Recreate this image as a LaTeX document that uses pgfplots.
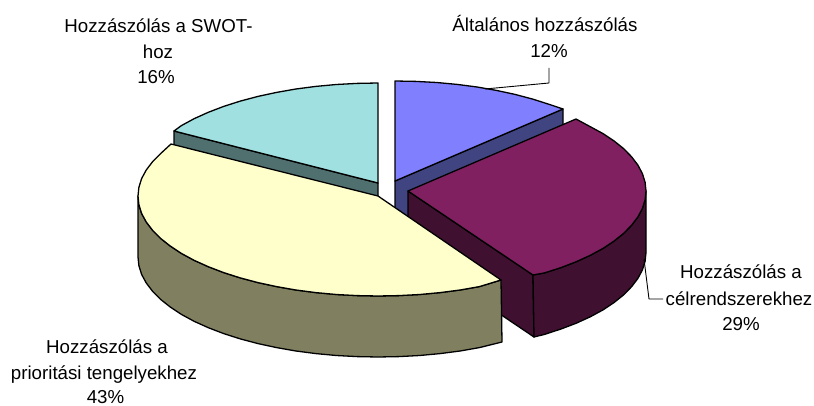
\documentclass[border=0pt]{standalone}
\usepackage{fontspec}
\setmainfont{Liberation Sans}
\usepackage{pgfplots}
\pgfplotsset{compat=1.18}
\definecolor{bT}{HTML}{8080FF}\definecolor{bS}{HTML}{404480}
\definecolor{mT}{HTML}{802060}\definecolor{mS}{HTML}{401030}
\definecolor{yT}{HTML}{FFFFCC}\definecolor{yS}{HTML}{808060}
\definecolor{tT}{HTML}{A0E0E0}\definecolor{tS}{HTML}{507070}
\tikzset{lab/.style={anchor=base,font=\fontsize{18.7}{22}\selectfont,inner sep=0pt}}
\begin{document}
\begin{tikzpicture}
\begin{axis}[x=1pt,y=1pt,xmin=0,xmax=814,ymin=0,ymax=406,y dir=reverse,hide axis,clip=false,
  every axis plot/.append style={draw=black,line width=1.3pt,line join=round,mark=none}]
\path (axis cs:0,0) rectangle (axis cs:814,406);
% blue side + top
\addplot[fill=bS] coordinates {(395,181)(563,109)(563,169)(395,242)} -- cycle;
\addplot[fill=bT] coordinates {(395,181)(395,81)(415.9,81.4)(436.7,82.5)(457.1,84.4)(477.1,87)(496.4,90.4)(515,94.4)(532.7,99.1)(549.3,104.4)(563,109)} -- cycle;
% teal side + top
\addplot[fill=tS] coordinates {(174,131)(378,183)(378,244)(174,192)} -- cycle;
\addplot[fill=tT] coordinates {(378,183)(378,83)(357.1,83.4)(336.3,84.5)(315.9,86.4)(295.9,89)(276.6,92.4)(258,96.4)(240.3,101.1)(223.7,106.4)(208.3,112.3)(194.1,118.7)(181.4,125.6)(174,131)} -- cycle;
% maroon sides + top
\addplot[fill=mS] coordinates {(408,191)(533,275)(534,337)(408,252)} -- cycle;
\addplot[fill=mS] coordinates {(646,191)(645.1,199.7)(642.4,208.4)(637.9,216.9)(631.6,225.2)(623.7,233.3)(614.1,241)(603,248.4)(590.3,255.3)(576.3,261.7)(561,267.6)(544.5,272.9)(533,275)(534,337)(544.5,334.4)(561,329)(576.3,323.2)(590.3,316.8)(603,309.9)(614.1,302.5)(623.7,294.8)(631.6,286.7)(637.9,278.4)(642.4,269.9)(645.1,261.2)(646,252.5)} -- cycle;
\addplot[fill=mT] coordinates {(408,191)(576,119)(590.3,126.7)(603,133.6)(614.1,141)(623.7,148.7)(631.6,156.8)(637.9,165.1)(642.4,173.6)(645.1,182.3)(646,191)(645.1,199.7)(642.4,208.4)(637.9,216.9)(631.6,225.2)(623.7,233.3)(614.1,241)(603,248.4)(590.3,255.3)(576.3,261.7)(561,267.6)(544.5,272.9)(533,275)} -- cycle;
% yellow rim + top
\addplot[fill=yS] coordinates {(138,196)(138.9,204.7)(141.6,213.4)(146.2,221.9)(152.5,230.2)(160.5,238.3)(170.2,246)(181.4,253.4)(194.1,260.3)(208.3,266.7)(223.7,272.6)(240.3,277.9)(258,282.6)(276.6,286.6)(295.9,290)(315.9,292.6)(336.3,294.5)(357.1,295.6)(378,296)(398.9,295.6)(419.7,294.5)(440.1,292.6)(460.1,290)(479.4,286.6)(501,280)(502,342)(479.4,347.6)(460.1,351)(440.1,353.6)(419.7,355.5)(398.9,356.6)(378,357)(357.1,356.6)(336.3,355.5)(315.9,353.6)(295.9,351)(276.6,347.6)(258,343.6)(240.3,338.9)(223.7,333.6)(208.3,327.7)(194.1,321.3)(181.4,314.4)(170.2,307)(160.5,299.3)(152.5,291.2)(146.2,282.9)(141.6,274.4)(138.9,265.7)(138,257)} -- cycle;
\addplot[fill=yT] coordinates {(378,196)(171,144)(160.5,153.7)(152.5,161.8)(146.2,170.1)(141.6,178.6)(138.9,187.3)(138,196)(138.9,204.7)(141.6,213.4)(146.2,221.9)(152.5,230.2)(160.5,238.3)(170.2,246)(181.4,253.4)(194.1,260.3)(208.3,266.7)(223.7,272.6)(240.3,277.9)(258,282.6)(276.6,286.6)(295.9,290)(315.9,292.6)(336.3,294.5)(357.1,295.6)(378,296)(398.9,295.6)(419.7,294.5)(440.1,292.6)(460.1,290)(479.4,286.6)(501,280)} -- cycle;
% leader lines
\addplot[line width=0.9pt] coordinates {(549,68)(549,83)(485,89)};
\addplot[line width=0.9pt] coordinates {(644,259)(649,299)(663,299)};
% labels
\node[lab] at (axis cs:545,32) {Általános hozzászólás};
\node[lab] at (axis cs:549,58) {12\%};
\node[lab] at (axis cs:158.5,33) {Hozzászólás a SWOT-};
\node[lab] at (axis cs:158,59) {hoz};
\node[lab] at (axis cs:156,84) {16\%};
\node[lab] at (axis cs:741,279) {Hozzászólás a};
\node[lab] at (axis cs:739,305) {célrendszerekhez};
\node[lab] at (axis cs:741,330) {29\%};
\node[lab] at (axis cs:107,353) {Hozzászólás a};
\node[lab] at (axis cs:104,379) {prioritási tengelyekhez};
\node[lab] at (axis cs:105.5,403.5) {43\%};
\end{axis}
\end{tikzpicture}
\end{document}
